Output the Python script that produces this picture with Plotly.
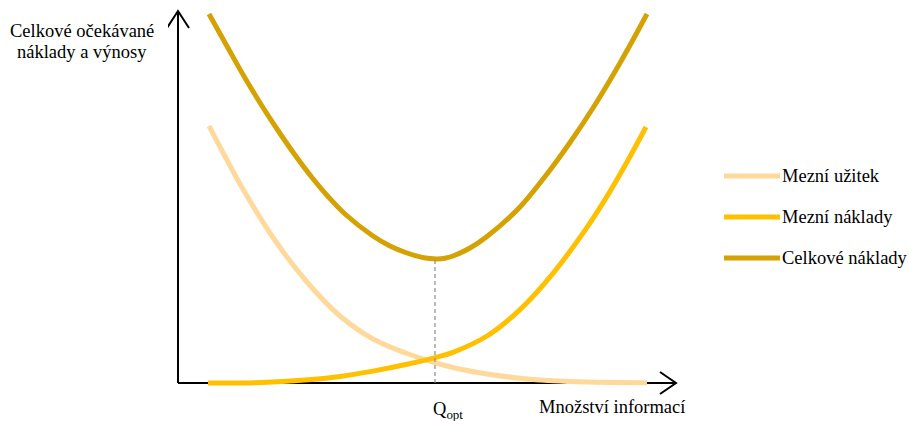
import plotly.graph_objects as go

# ---- data (abstract units; origin at the axes' corner) ----
uzitek_x = [31, 50, 62, 95, 129, 162, 195, 229, 255, 275, 309, 342, 375, 409, 469]
uzitek_y = [257, 221, 199, 145.5, 101, 67, 44, 29.5, 21, 15.5, 9, 4.8, 2.2, 1.0, 0.3]

naklady_x = [30, 84, 134, 162, 195, 229, 259, 275, 309, 342, 375, 409, 429, 449, 468]
naklady_y = [0, 0.5, 3.5, 6.6, 11.9, 18.7, 25.9, 30.7, 47, 73.4, 109.7, 155.6, 186.6, 221, 256]

celkove_x = [31, 50, 67, 84, 100, 117, 134, 150, 167, 195, 212, 229, 244, 252, 259,
             267, 275, 292, 309, 342, 369, 392, 415, 442, 469]
celkove_y = [369, 335, 305, 277, 252.5, 228, 205.5, 186.5, 169, 147, 137, 130, 125.6, 124.4, 124,
             124.8, 127, 135, 146.5, 176, 209, 240.5, 275, 320, 369]

q_opt = 257
x_max = 498
y_max = 372

series_names = ["Mezní užitek", "Mezní náklady", "Celkové náklady"]
colors = ["#FFD99B", "#FFC000", "#D4A202"]
y_title_lines = ["Celkové očekávané", "náklady a výnosy"]
x_title = "Množství informací"
q_label = "Q<sub>opt</sub>"

FONT = "Liberation Serif, Times New Roman, serif"
FS = 18.5
XR = [-10, 500]
YR = [-14, 375]


def px(xd):
    return (xd - XR[0]) / (XR[1] - XR[0])


def py(yd):
    return (yd - YR[0]) / (YR[1] - YR[0])


fig = go.Figure()
for xs, ys, name, c in zip([uzitek_x, naklady_x, celkove_x],
                           [uzitek_y, naklady_y, celkove_y],
                           series_names, colors):
    fig.add_trace(go.Scatter(x=xs, y=ys, mode="lines", name=name,
                             line=dict(color=c, width=5, shape="spline", smoothing=1.0),
                             showlegend=False, hoverinfo="skip"))

shapes = []
# axes with arrow heads (below the curves)
shapes.append(dict(type="line", xref="x", yref="y", x0=0, y0=0, x1=x_max, y1=0,
                   line=dict(color="black", width=2), layer="below"))
shapes.append(dict(type="line", xref="x", yref="y", x0=0, y0=0, x1=0, y1=y_max,
                   line=dict(color="black", width=2), layer="below"))
shapes.append(dict(type="path", xref="x", yref="y",
                   path=f"M{x_max-16},11 L{x_max},0 L{x_max-16},-11",
                   line=dict(color="black", width=2), layer="below"))
shapes.append(dict(type="path", xref="x", yref="y",
                   path=f"M-11,{y_max-17} L0,{y_max} L11,{y_max-17}",
                   line=dict(color="black", width=2), layer="below"))

# dashed guide at optimum
q_min = min(celkove_y)
shapes.append(dict(type="line", xref="x", yref="y", x0=q_opt, x1=q_opt, y0=0, y1=q_min,
                   line=dict(color="#8C8C8C", width=1.2, dash="4px,3px"), layer="above"))

annotations = []
# axis titles
for txt, yy in zip(y_title_lines, [352, 331]):
    annotations.append(dict(x=px(-96), y=py(yy), xref="paper", yref="paper", text=txt,
                            showarrow=False, xanchor="center", yanchor="middle",
                            font=dict(family=FONT, size=FS, color="black")))
annotations.append(dict(x=px(434), y=py(-24), xref="paper", yref="paper", text=x_title,
                        showarrow=False, xanchor="center", yanchor="middle",
                        font=dict(family=FONT, size=FS, color="black")))
annotations.append(dict(x=q_opt, y=py(-27), xref="x", yref="paper", text=q_label,
                        showarrow=False, xanchor="left", yanchor="middle", xshift=-4,
                        font=dict(family=FONT, size=FS, color="black")))

# custom legend
leg_y = [207, 166, 125]
for name, c, ly in zip(series_names, colors, leg_y):
    shapes.append(dict(type="line", xref="paper", yref="paper", x0=px(546), x1=px(602),
                       y0=py(ly), y1=py(ly), line=dict(color=c, width=5)))
    annotations.append(dict(x=px(605), y=py(ly), xref="paper", yref="paper", text=name,
                            showarrow=False, xanchor="left", yanchor="middle", xshift=-3,
                            font=dict(family=FONT, size=FS, color="black")))

fig.update_layout(
    width=909, height=421,
    margin=dict(l=168, r=231, t=8, b=24, pad=0),
    paper_bgcolor="white", plot_bgcolor="white",
    xaxis=dict(range=XR, visible=False, fixedrange=True),
    yaxis=dict(range=YR, visible=False, fixedrange=True),
    shapes=shapes,
    annotations=annotations,
    showlegend=False,
)

fig.write_html("out.html", config={"displayModeBar": False},
               post_script="document.body.style.margin='0';document.body.style.overflow='hidden';")
